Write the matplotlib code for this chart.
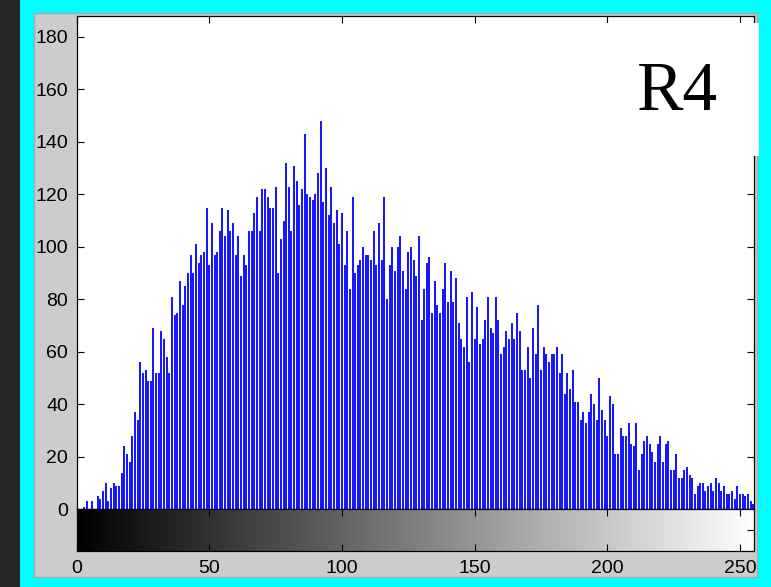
import numpy as np
import matplotlib
matplotlib.use("Agg")
import matplotlib.pyplot as plt
from matplotlib.patches import Rectangle

# histogram counts, grey levels 0..255
counts = [3, 0, 0, 1, 3, 0, 3, 0, 5, 4,
          7, 10, 3, 8, 10, 9, 9, 14, 24, 21,
          18, 28, 37, 34, 56, 52, 53, 49, 49, 69,
          52, 52, 68, 65, 58, 52, 81, 74, 75, 87,
          78, 85, 90, 97, 90, 101, 94, 97, 98, 115,
          93, 109, 97, 98, 106, 115, 104, 114, 106, 109,
          97, 104, 89, 97, 93, 106, 106, 113, 119, 106,
          122, 122, 119, 115, 115, 123, 90, 103, 110, 132,
          123, 106, 131, 125, 116, 122, 143, 120, 119, 118,
          120, 128, 148, 117, 130, 112, 123, 109, 114, 101,
          113, 93, 106, 84, 119, 90, 93, 95, 100, 97,
          97, 95, 106, 93, 109, 95, 119, 80, 93, 100,
          91, 100, 104, 91, 84, 98, 100, 95, 89, 104,
          72, 84, 94, 96, 75, 87, 78, 75, 84, 94,
          79, 91, 79, 88, 71, 65, 62, 81, 56, 83,
          65, 77, 63, 65, 72, 81, 69, 67, 81, 72,
          59, 62, 68, 65, 71, 65, 75, 68, 53, 53,
          62, 50, 69, 59, 78, 53, 62, 59, 56, 59,
          59, 62, 52, 59, 44, 52, 46, 53, 41, 41,
          34, 37, 33, 37, 44, 40, 34, 50, 38, 34,
          28, 43, 40, 21, 21, 31, 28, 28, 33, 25,
          24, 33, 15, 21, 26, 28, 25, 22, 18, 25,
          28, 18, 25, 26, 15, 15, 21, 12, 12, 15,
          16, 13, 12, 6, 9, 10, 10, 7, 9, 10,
          7, 12, 10, 7, 9, 6, 6, 7, 4, 9,
          6, 6, 5, 6, 3, 2]
levels = np.arange(len(counts))
yticks = [0, 20, 40, 60, 80, 100, 120, 140, 160, 180]
xticks = [0, 50, 100, 150, 200, 250]
label = "R4"

W, H = 771, 587
fig = plt.figure(figsize=(W / 100, H / 100), dpi=100, facecolor="#00ffff")

# dark strip on the left and grey figure panel
fig.add_artist(Rectangle((0, 0), 20 / W, 1, transform=fig.transFigure,
                         facecolor="#262626", edgecolor="none", zorder=0))
fig.add_artist(Rectangle((34 / W, (H - 577) / H), (757 - 34) / W, (577 - 13) / H,
                         transform=fig.transFigure, facecolor="#cccccc",
                         edgecolor="#a8a8a8", linewidth=1, zorder=0))

left = 76.5 / W
width = (754.3 - 76.5) / W
ax = fig.add_axes([left, (H - 509.3) / H, width, (509.3 - 16) / H])
cax = fig.add_axes([left, (H - 550.7) / H, width, (550.7 - 509.3) / H])

ax.vlines(levels, 0, counts, color="#0000ff", linewidth=1.3)
ax.set_xlim(0, 255.4)
ax.set_ylim(0, 188)
ax.set_yticks(yticks)
ax.set_xticks(xticks)
ax.tick_params(axis="both", direction="in", length=5, width=0.8,
               top=True, bottom=False, right=True, left=True,
               labelbottom=False, labelsize=14, pad=6)
for s in ax.spines.values():
    s.set_linewidth(0.9)
for t in ax.get_yticklabels():
    t.set_fontfamily("Liberation Sans")

grad = np.linspace(0, 1, 256).reshape(1, -1)
cax.imshow(grad, cmap="gray", aspect="auto", extent=(0, 255.4, 0, 1))
cax.set_xlim(0, 255.4)
cax.set_ylim(0, 1)
cax.set_xticks(xticks)
cax.set_yticks([0.5])
cax.tick_params(axis="x", direction="in", length=5, width=0.8,
                top=True, bottom=True, labelsize=14, pad=7)
cax.tick_params(axis="y", direction="in", length=5, width=0.8,
                left=False, right=True, labelleft=False)
for s in cax.spines.values():
    s.set_linewidth(0.9)
for t in cax.get_xticklabels():
    t.set_fontfamily("Liberation Sans")

# white label box in the top right corner
fig.add_artist(Rectangle((600 / W, (H - 156) / H), (759 - 600) / W, (156 - 23) / H,
                         transform=fig.transFigure, facecolor="white",
                         edgecolor="none", zorder=5))
fig.text(637 / W, (H - 110) / H, label, fontsize=50, family="Liberation Serif",
         va="baseline", ha="left", zorder=6)

fig.savefig("out.png", dpi=100, facecolor=fig.get_facecolor())
